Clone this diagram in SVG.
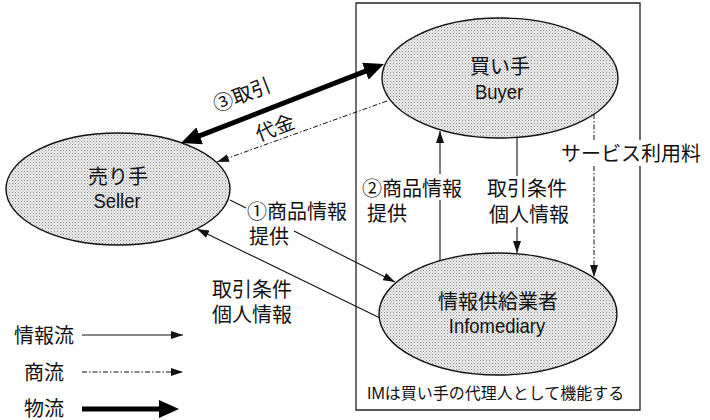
<svg xmlns="http://www.w3.org/2000/svg" width="710" height="420" viewBox="0 0 710 420">
<style>
  text { font-family: "Liberation Sans", "Noto Sans CJK JP", sans-serif; fill: #111; }
  .lbl { font-size: 20px; }
  .node-jp { font-size: 20px; text-anchor: middle; }
  .node-en { font-size: 20.5px; text-anchor: middle; }
  .info { fill: none; stroke: #111; stroke-width: 1.1; }
  .trade { fill: none; stroke: #111; stroke-width: 1; stroke-dasharray: 5 2 1.5 2; }
  .goods { fill: none; stroke: #000; stroke-width: 5; }
  .shape { stroke: #111; stroke-width: 1.4; fill: url(#dots); }
  .frame { fill: none; stroke: #222; stroke-width: 1.3; }
</style>
<defs>
  <pattern id="dots" width="3" height="3" patternUnits="userSpaceOnUse">
    <rect width="3" height="3" fill="#eeeeee"/>
    <rect x="0" y="0" width="1" height="1" fill="#8a8a8a"/>
    <rect x="1.5" y="1.5" width="1" height="1" fill="#a0a0a0"/>
  </pattern>
  <marker id="ah" markerUnits="userSpaceOnUse" markerWidth="12" markerHeight="8" refX="12" refY="4" orient="auto">
    <path d="M0,0 L12,4 L0,8 z" fill="#111"/>
  </marker>
  <marker id="ahBig" markerUnits="userSpaceOnUse" markerWidth="20" markerHeight="18" refX="12" refY="9" orient="auto-start-reverse">
    <path d="M0,0 L20,9 L0,18 z" fill="#000"/>
  </marker>
</defs>

<!-- frame around buyer / infomediary -->
<g id="frame">
  <path class="frame" d="M640,140 L640,3 L356,3 L356,410 L640,410 L640,166"/>
  <text x="367" y="399" style="font-size:16px">IMは買い手の代理人として機能する</text>
</g>

<!-- connectors -->
<g id="connectors">
  <!-- ③ 取引 (goods flow, both ways) -->
  <line class="goods" x1="188.5" y1="140.1" x2="376.5" y2="66.9" marker-start="url(#ahBig)" marker-end="url(#ahBig)"/>
  <text class="lbl" x="242" y="102" text-anchor="middle" transform="rotate(-21 242 95)">③取引</text>
  <!-- 代金 -->
  <line class="trade" x1="387" y1="101" x2="217" y2="162" marker-end="url(#ah)"/>
  <text class="lbl" x="275" y="135" text-anchor="middle" transform="rotate(-21 275 128)">代金</text>
  <!-- ① 商品情報提供 Seller -> Infomediary -->
  <line class="info" x1="230" y1="200" x2="246" y2="208"/>
  <line class="info" x1="294" y1="231" x2="395" y2="282" marker-end="url(#ah)"/>
  <text class="lbl" x="247" y="219">①商品情報</text>
  <text class="lbl" x="249" y="244">提供</text>
  <!-- 取引条件 個人情報 Infomediary -> Seller -->
  <line class="info" x1="380" y1="318" x2="197" y2="229" marker-end="url(#ah)"/>
  <text class="lbl" x="212" y="297">取引条件</text>
  <text class="lbl" x="212" y="322">個人情報</text>
  <!-- ② 商品情報提供 Infomediary -> Buyer -->
  <line class="info" x1="440" y1="261" x2="440" y2="200"/>
  <line class="info" x1="440" y1="174" x2="440" y2="131" marker-end="url(#ah)"/>
  <text class="lbl" x="362" y="196">②商品情報</text>
  <text class="lbl" x="367" y="221">提供</text>
  <!-- 取引条件 個人情報 Buyer -> Infomediary -->
  <line class="info" x1="517" y1="138" x2="517" y2="176"/>
  <line class="info" x1="517" y1="227" x2="517" y2="253" marker-end="url(#ah)"/>
  <text class="lbl" x="487" y="196">取引条件</text>
  <text class="lbl" x="489" y="222">個人情報</text>
  <!-- サービス利用料 Buyer -> Infomediary -->
  <line class="trade" x1="594" y1="114" x2="594" y2="141"/>
  <line class="trade" x1="594" y1="166" x2="594" y2="277" marker-end="url(#ah)"/>
  <text class="lbl" x="561" y="161">サービス利用料</text>
</g>

<!-- nodes -->
<g id="buyer">
  <ellipse class="shape" cx="500" cy="78" rx="118" ry="60"/>
  <text class="node-jp" x="500" y="74">買い手</text>
  <text class="node-en" transform="translate(499 98.5) scale(0.9 1)">Buyer</text>
</g>
<g id="seller">
  <ellipse class="shape" cx="118" cy="189" rx="112" ry="56"/>
  <text class="node-jp" x="118" y="184">売り手</text>
  <text class="node-en" transform="translate(117 208) scale(0.9 1)">Seller</text>
</g>
<g id="infomediary">
  <ellipse class="shape" cx="498" cy="314" rx="119" ry="61"/>
  <text class="node-jp" x="498" y="309">情報供給業者</text>
  <text class="node-en" transform="translate(497 333) scale(0.9 1)">Infomediary</text>
</g>

<!-- legend -->
<g id="legend">
  <text class="lbl" x="14" y="343">情報流</text>
  <line class="info" x1="82" y1="335" x2="183" y2="335" marker-end="url(#ah)"/>
  <text class="lbl" x="24" y="380">商流</text>
  <line class="trade" x1="82" y1="372" x2="183" y2="372" marker-end="url(#ah)"/>
  <text class="lbl" x="24" y="416">物流</text>
  <line class="goods" x1="82" y1="409" x2="171" y2="409" marker-end="url(#ahBig)"/>
</g>
</svg>
